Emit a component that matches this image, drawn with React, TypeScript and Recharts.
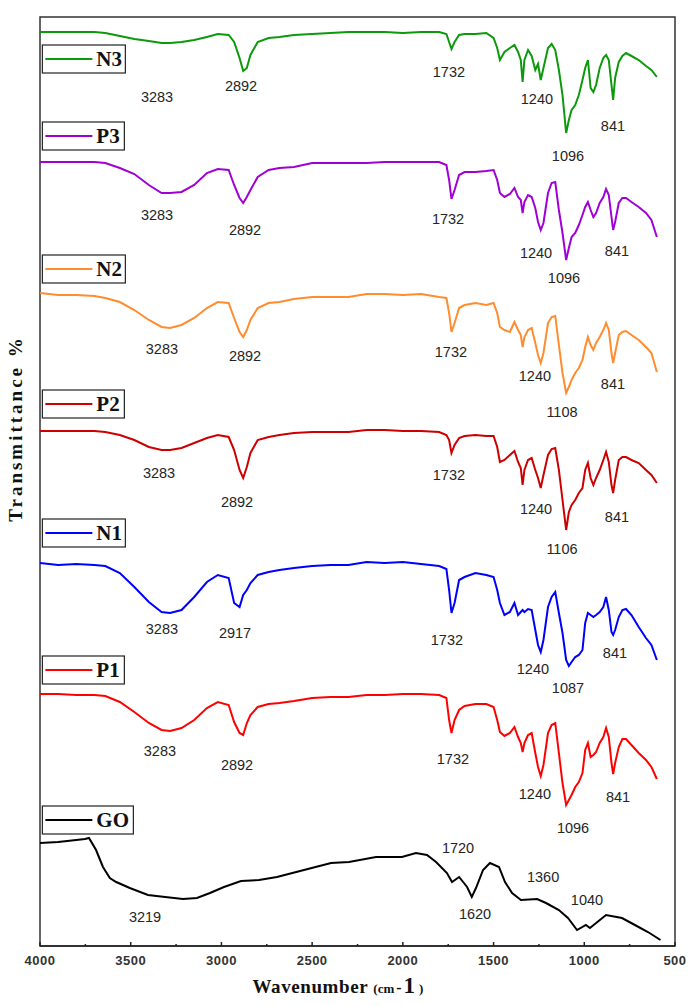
import { Label, Line, LineChart, ReferenceArea, ReferenceDot, XAxis, YAxis } from "recharts";

// wavenumber grid (cm-1) shared by the six polymer spectra
const wn = [
    4000, 3900, 3800, 3700, 3640, 3560, 3480, 3400, 3330, 3283, 3220, 3150, 3080, 3020, 2960, 2930, 2900, 2880,
    2860, 2840, 2800, 2740, 2680, 2600, 2500, 2400, 2300, 2200, 2100, 2000, 1900, 1800, 1760, 1745, 1732, 1715,
    1690, 1660, 1600, 1540, 1500, 1480, 1465, 1440, 1410, 1385, 1365, 1350, 1340, 1330, 1310, 1290, 1270, 1255,
    1240, 1225, 1200, 1180, 1160, 1140, 1120, 1100, 1085, 1070, 1050, 1030, 1010, 995, 980, 965, 950, 935, 915,
    895, 880, 865, 850, 841, 830, 810, 790, 770, 740, 700, 660, 630, 600,
];

// relative transmittance (a.u.) of each sample
const n3 = [
    100, 100, 100, 100, 99, 96, 93, 91, 89, 89, 90, 92, 95, 98, 97, 90, 74, 61, 64, 77, 90, 94, 95, 97, 98, 99, 100,
    100, 100, 99, 100, 100, 98, 90, 83, 90, 97, 98, 98, 99, 94, 84, 72, 80, 84, 87, 80, 72, 50, 72, 82, 76, 62, 68,
    52, 64, 84, 88, 82, 62, 37, -1, 12, 22, 27, 37, 52, 64, 72, 44, 40, 47, 64, 74, 77, 72, 47, 32, 54, 70, 76, 79,
    76, 72, 66, 62, 55,
];
const p3 = [
    99, 99, 99, 99, 98, 93, 87, 76, 68, 68, 69, 76, 88, 92, 91, 76, 63, 58, 64, 71, 84, 91, 93, 94, 98, 98, 98, 98,
    99, 99, 99, 99, 96, 81, 62, 71, 86, 89, 89, 90, 91, 81, 68, 64, 67, 73, 64, 61, 48, 59, 66, 64, 53, 39, 31, 38,
    68, 78, 79, 51, 28, 1, 13, 24, 28, 36, 46, 54, 59, 51, 44, 48, 58, 64, 72, 66, 44, 31, 39, 58, 63, 63, 59, 54,
    48, 41, 24,
];
const n2 = [
    100, 98, 98, 97, 95, 91, 83, 73, 66, 65, 68, 75, 85, 91, 90, 75, 61, 56, 63, 73, 85, 90, 91, 94, 96, 96, 96, 99,
    99, 98, 99, 96, 95, 80, 61, 70, 85, 88, 90, 88, 90, 80, 66, 63, 61, 71, 63, 58, 46, 56, 63, 65, 50, 38, 30, 40,
    70, 76, 77, 48, 20, 0, 6, 13, 20, 25, 33, 46, 56, 48, 43, 50, 56, 63, 70, 63, 40, 30, 40, 58, 61, 62, 58, 53,
    46, 40, 21,
];
const p2 = [
    100, 100, 100, 100, 99, 96, 91, 84, 81, 81, 83, 88, 93, 96, 94, 81, 61, 53, 64, 78, 91, 94, 96, 98, 99, 99, 99,
    101, 101, 100, 100, 99, 96, 91, 78, 86, 93, 95, 96, 95, 95, 84, 69, 71, 76, 80, 69, 63, 46, 61, 71, 73, 61, 53,
    43, 56, 76, 82, 83, 61, 31, 1, 19, 26, 31, 38, 43, 61, 68, 53, 46, 53, 61, 71, 79, 69, 46, 38, 51, 71, 74, 74,
    71, 68, 61, 56, 48,
];
const n1 = [
    100, 98, 99, 98, 97, 90, 76, 61, 51, 50, 53, 66, 81, 88, 85, 60, 56, 68, 73, 80, 88, 91, 93, 95, 97, 98, 98, 101,
    100, 101, 99, 97, 94, 73, 50, 60, 83, 86, 90, 88, 86, 73, 60, 48, 51, 60, 48, 51, 53, 51, 54, 53, 33, 18, 11, 23,
    56, 66, 71, 50, 30, 3, -3, 1, 6, 8, 13, 40, 50, 48, 46, 48, 51, 56, 66, 53, 31, 28, 33, 46, 53, 54, 48, 36, 25,
    18, 3,
];
const p1 = [
    100, 100, 99, 99, 98, 92, 82, 71, 64, 63, 66, 74, 86, 92, 89, 72, 61, 59, 71, 79, 87, 90, 91, 93, 96, 97, 97, 99,
    99, 100, 100, 99, 96, 74, 61, 74, 84, 88, 90, 90, 87, 74, 62, 58, 61, 67, 57, 51, 42, 51, 59, 61, 41, 27, 18, 29,
    61, 69, 71, 41, 11, -11, -6, -1, 7, 12, 21, 44, 51, 37, 39, 42, 51, 57, 66, 57, 31, 20, 31, 47, 55, 55, 49, 41,
    34, 27, 15,
];

// graphene oxide has its own grid
const goWn = [
    4000, 3900, 3800, 3752, 3730, 3691, 3653, 3615, 3580, 3505, 3405, 3310, 3212, 3135, 3063, 2986, 2892, 2793, 2694,
    2545, 2396, 2297, 2148, 2005, 1928, 1867, 1817, 1757, 1729, 1690, 1646, 1620, 1597, 1558, 1520, 1470, 1437, 1398,
    1349, 1260, 1211, 1140, 1090, 1040, 991, 969, 880, 792, 721, 649, 580,
];
const go = [
    95, 96, 98, 99, 100, 88, 71, 60, 56, 50, 43, 41, 39, 40, 45, 51, 57, 58, 61, 68, 75, 76, 81, 81, 85, 83, 76, 65,
    56, 61, 51, 41, 50, 68, 75, 71, 56, 45, 38, 39, 35, 28, 20, 8, 13, 10, 23, 20, 13, 6, -2,
];

const seriesNames = ["N3", "P3", "N2", "P2", "N1", "P1", "GO"];
const seriesColors = ["#0c990c", "#a100d4", "#ff8c2e", "#cc0000", "#0000ff", "#ff0000", "#000000"];
// vertical stacking offset of each spectrum
const seriesOffsets = [811, 682, 550, 412, 280, 149, 5];
const legendTops = [898, 821, 688, 553, 424, 287, 137];

const peakLabels: [string, number, number][] = [
    ["3283", 3355, 846], ["2892", 2892, 857], ["1732", 1746, 871], ["1240", 1261, 844], ["1096", 1090, 787], ["841", 842, 817],
    ["3283", 3355, 728], ["2892", 2870, 713], ["1732", 1751, 724], ["1240", 1266, 690], ["841", 820, 692], ["1096", 1112, 665],
    ["3283", 3328, 594], ["2892", 2870, 587], ["1732", 1735, 591], ["1240", 1272, 567], ["841", 842, 559], ["1108", 1123, 531],
    ["3283", 3344, 470], ["2892", 2914, 441], ["1732", 1746, 468], ["1240", 1266, 434], ["841", 820, 426], ["1106", 1123, 394],
    ["3283", 3328, 314], ["2917", 2925, 310], ["1732", 1757, 303], ["1240", 1283, 274], ["1087", 1090, 255], ["841", 831, 290],
    ["3283", 3339, 192], ["2892", 2914, 178], ["1732", 1724, 184], ["1240", 1272, 149], ["841", 814, 146], ["1096", 1062, 115],
    ["3219", 3421, 26], ["1720", 1696, 95], ["1620", 1602, 29], ["1360", 1227, 66], ["1040", 985, 43],
];

const xTicks = [4000, 3750, 3500, 3250, 3000, 2750, 2500, 2250, 2000, 1750, 1500, 1250, 1000, 750, 500];

const polymer = [n3, p3, n2, p2, n1, p1];
const seriesData = seriesNames.map((_, i) =>
    i < polymer.length
        ? wn.map((w, j) => ({ wn: w, v: polymer[i][j] + seriesOffsets[i] }))
        : goWn.map((w, j) => ({ wn: w, v: go[j] + seriesOffsets[i] }))
);

const WnTick = (props: any) => {
    const { x, y, payload } = props;
    const major = payload.value % 500 === 0;
    return (
        <g>
            <line x1={x} x2={x} y1={y} y2={y - (major ? 4 : 2)} stroke="#222" strokeWidth={1.5} />
            {major && (
                <text
                    x={x}
                    y={y + 19}
                    textAnchor="middle"
                    fontFamily="Liberation Sans"
                    fontWeight="bold"
                    fontSize={13}
                    letterSpacing={0.5}
                    fill="#333"
                >
                    {payload.value}
                </text>
            )}
        </g>
    );
};

const XTitle = (props: any) => {
    const vb = props.viewBox ?? props;
    const x = vb.x + vb.width / 2 - 105;
    const y = vb.y + 47;
    return (
        <text x={x} y={y} fontFamily="Liberation Serif" fontWeight="bold" fill="#111">
            <tspan fontSize={19} letterSpacing={0.6}>Wavenumber </tspan>
            <tspan fontSize={13}>(cm</tspan>
            <tspan fontSize={16} dx={2}>-</tspan>
            <tspan fontSize={23} dx={2}>1</tspan>
            <tspan fontSize={13} dx={4}>)</tspan>
        </text>
    );
};

const YTitle = (props: any) => {
    const vb = props.viewBox ?? props;
    const x = vb.x - 24;
    const y = vb.y + vb.height / 2 - 53;
    return (
        <text
            x={x}
            y={y}
            transform={`rotate(-90 ${x} ${y})`}
            textAnchor="middle"
            dominantBaseline="central"
            fontFamily="Liberation Serif"
            fontWeight="bold"
            fontSize={19}
            letterSpacing={3}
            fill="#111"
        >
            Transmittance %
        </text>
    );
};

const legendShape = (i: number) => (p: any) => {
    const name = seriesNames[i];
    const w = name === "GO" ? 91 : name[0] === "P" ? 82 : 83;
    return (
        <g>
            <rect x={p.cx} y={p.cy} width={w} height={28} fill="#fff" stroke="#222" strokeWidth={1.2} />
            <line x1={p.cx + 3} x2={p.cx + 50} y1={p.cy + 14} y2={p.cy + 14} stroke={seriesColors[i]} strokeWidth={2.2} />
            <text x={p.cx + 54} y={p.cy + 21} fontFamily="Liberation Serif" fontWeight="bold" fontSize={21} fill="#111">
                {name}
            </text>
        </g>
    );
};

const peakShape = (text: string) => (p: any) => (
    <text
        x={p.cx}
        y={p.cy}
        textAnchor="middle"
        dominantBaseline="central"
        fontFamily="Liberation Sans"
        fontSize={14.5}
        fill="#252525"
    >
        {text}
    </text>
);

const App = () => {
    return (
        <div style={{ position: "absolute", left: 0, top: 0, width: 700, height: 1006, background: "#fff" }}>
            <LineChart width={700} height={1006} margin={{ top: 17, right: 25, left: 39, bottom: 0 }}>
                <XAxis
                    dataKey="wn"
                    type="number"
                    domain={[500, 4000]}
                    reversed
                    allowDataOverflow
                    ticks={xTicks}
                    interval={0}
                    height={60}
                    tickSize={0}
                    tickMargin={0}
                    tickLine={false}
                    tick={<WnTick />}
                    axisLine={{ stroke: "#222", strokeWidth: 1.5 }}
                >
                    <Label content={XTitle} />
                </XAxis>
                <YAxis
                    type="number"
                    domain={[-3, 926]}
                    allowDataOverflow
                    width={1}
                    tick={false}
                    tickLine={false}
                    axisLine={false}
                >
                    <Label content={YTitle} />
                </YAxis>
                {/* plot frame */}
                <ReferenceArea
                    x1={4000}
                    x2={500}
                    y1={-3}
                    y2={926}
                    fill="none"
                    stroke="#333"
                    strokeWidth={1.5}
                    ifOverflow="visible"
                />
                {seriesNames.map((name, i) => (
                    <Line
                        key={name}
                        name={name}
                        data={seriesData[i]}
                        dataKey="v"
                        type="linear"
                        stroke={seriesColors[i]}
                        strokeWidth={2}
                        dot={false}
                        isAnimationActive={false}
                    />
                ))}
                {seriesNames.map((name, i) => (
                    <ReferenceDot key={"lg" + name} x={3987} y={legendTops[i]} r={0} shape={legendShape(i)} />
                ))}
                {peakLabels.map(([text, x, y], k) => (
                    <ReferenceDot key={"pk" + k} x={x} y={y} r={0} shape={peakShape(text)} />
                ))}
            </LineChart>
        </div>
    );
};

export default App;
